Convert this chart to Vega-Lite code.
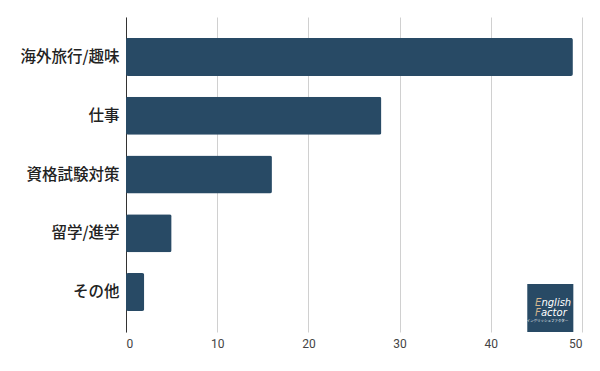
{
  "$schema": "https://vega.github.io/schema/vega-lite/v6.json",
  "width": 456,
  "height": 315,
  "autosize": "none",
  "padding": {"left": 126, "top": 17, "right": 18, "bottom": 39},
  "background": "#ffffff",
  "config": {
    "view": {"stroke": null},
    "font": "Noto Sans CJK JP"
  },
  "layer": [
    {
      "data": {
        "values": [
          {"category": "海外旅行/趣味", "value": 49},
          {"category": "仕事", "value": 28},
          {"category": "資格試験対策", "value": 16},
          {"category": "留学/進学", "value": 5},
          {"category": "その他", "value": 2}
        ]
      },
      "mark": {"type": "bar", "color": "#284a65", "cornerRadius": 2},
      "encoding": {
        "y": {
          "field": "category",
          "type": "nominal",
          "sort": null,
          "title": null,
          "scale": {"paddingInner": 0.353, "paddingOuter": 0.356},
          "axis": {
            "domain": true,
            "domainColor": "#333333",
            "domainWidth": 1,
            "ticks": false,
            "labelFontSize": 15.5,
            "labelFontWeight": 500,
            "labelColor": "#222222",
            "labelPadding": 7,
            "labelFont": "Noto Sans CJK JP"
          }
        },
        "x": {
          "field": "value",
          "type": "quantitative",
          "title": null,
          "scale": {"domain": [0, 50], "nice": false},
          "axis": {
            "values": [0, 10, 20, 30, 40, 50],
            "domain": false,
            "ticks": false,
            "grid": true,
            "gridColor": "#d0d0d0",
            "labelFontSize": 12,
            "labelColor": "#444444",
            "labelPadding": 6,
            "labelFont": "Roboto"
          }
        }
      }
    },
    {
      "data": {"values": [{"x": 44.0, "x2": 49.05, "y": 0.0, "y2": 0.152}]},
      "mark": {"type": "rect", "color": "#284a65", "clip": false},
      "encoding": {
        "x": {"field": "x", "type": "quantitative"},
        "x2": {"field": "x2"},
        "y": {"field": "y", "type": "quantitative", "scale": {"domain": [0, 1]}, "axis": null},
        "y2": {"field": "y2"}
      }
    },
    {
      "data": {
        "values": [
          {"x": 44.85, "y": 0.093, "text": "E", "part": "first"},
          {"x": 45.55, "y": 0.093, "text": "nglish", "part": "rest"},
          {"x": 44.85, "y": 0.061, "text": "F", "part": "first"},
          {"x": 45.5, "y": 0.061, "text": "actor", "part": "rest"}
        ]
      },
      "mark": {"type": "text", "fontStyle": "italic", "font": "DejaVu Sans", "fontSize": 10, "align": "left", "baseline": "middle"},
      "encoding": {
        "x": {"field": "x", "type": "quantitative"},
        "y": {"field": "y", "type": "quantitative", "scale": {"domain": [0, 1]}, "axis": null},
        "text": {"field": "text"},
        "color": {"field": "part", "type": "nominal", "scale": {"domain": ["first", "rest"], "range": ["#d4b48c", "#ffffff"]}, "legend": null}
      }
    },
    {
      "data": {"values": [{"x": 46.2, "y": 0.035, "text": "イングリッシュファクター"}]},
      "mark": {"type": "text", "color": "#ffffff", "fontSize": 3.5, "font": "Noto Sans CJK JP", "align": "center", "baseline": "middle"},
      "encoding": {
        "x": {"field": "x", "type": "quantitative"},
        "y": {"field": "y", "type": "quantitative", "scale": {"domain": [0, 1]}, "axis": null},
        "text": {"field": "text"}
      }
    }
  ],
  "resolve": {"scale": {"y": "independent"}, "axis": {"y": "independent"}}
}
